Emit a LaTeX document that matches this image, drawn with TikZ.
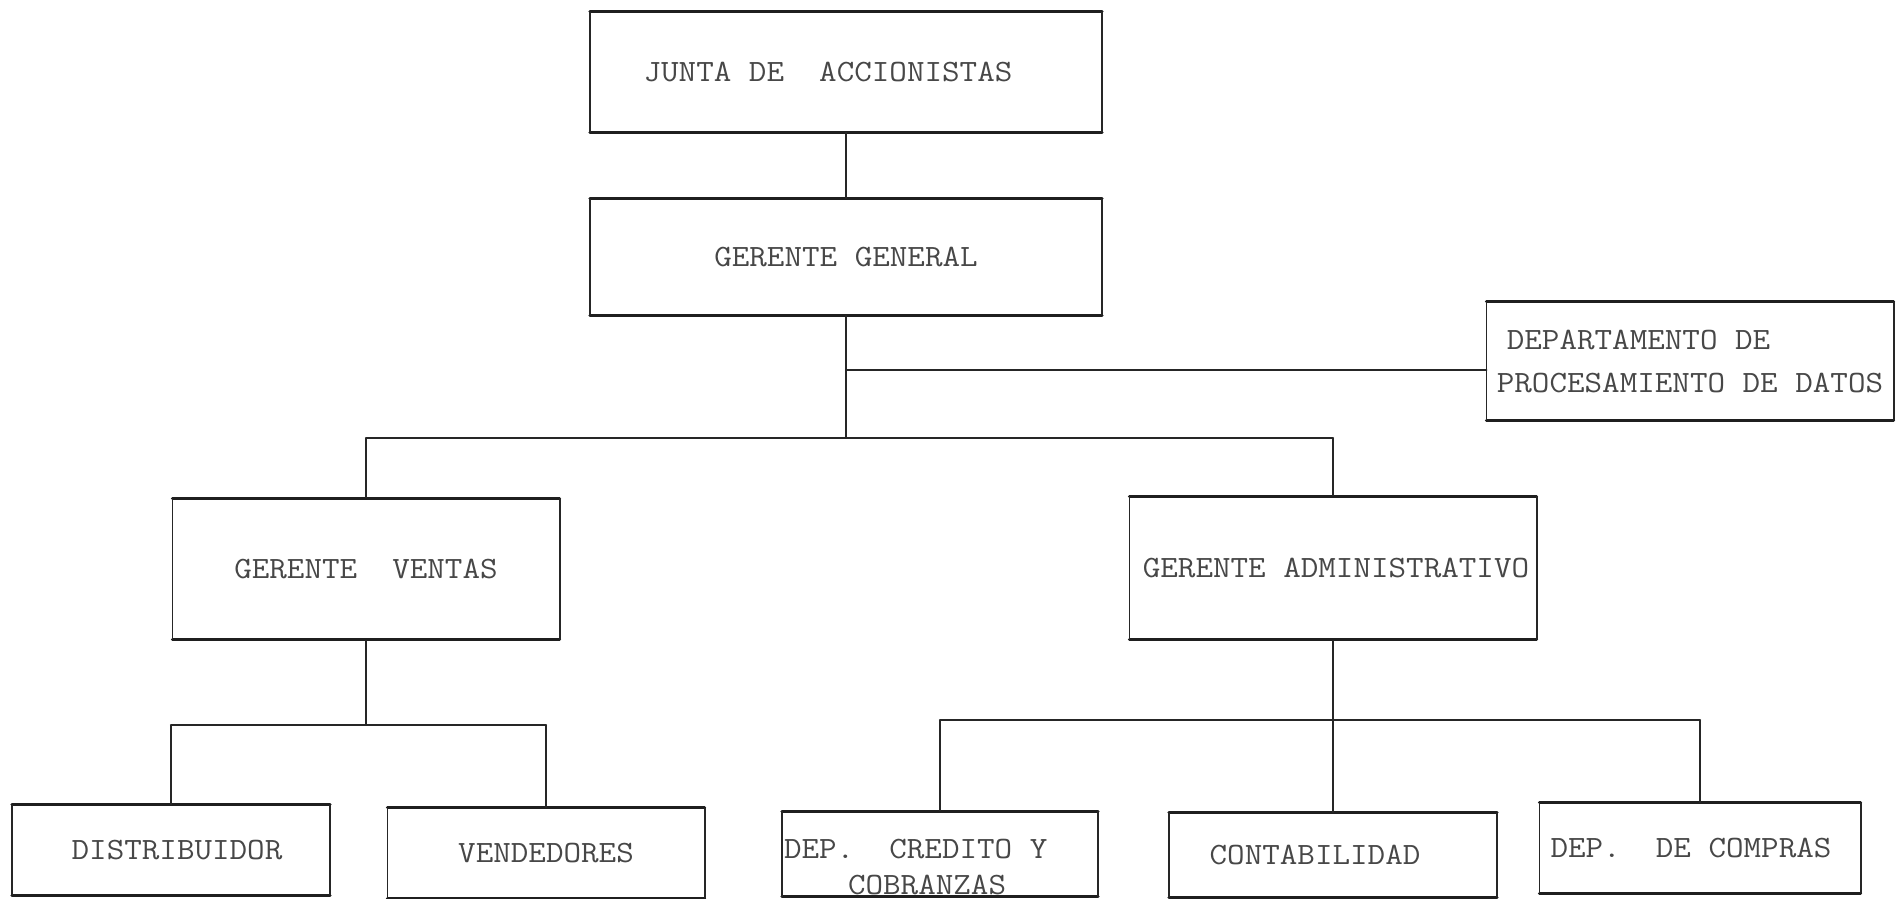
\documentclass[tikz,border=0pt]{standalone}
\usepackage{fontspec}
\setmonofont[FakeStretch=1.1]{Latin Modern Mono}
\newcommand{\orgfont}{\ttfamily\fontsize{31}{43}\selectfont}
% typed-card frame: heavy horizontal rules, lighter vertical rules
\newcommand{\cardframe}[1]{%
  \draw[hrule] (#1.north west) -- (#1.north east);
  \draw[hrule] (#1.south west) -- (#1.south east);
  \draw[vrule] (#1.north west) -- (#1.south west);
  \draw[vrule] (#1.north east) -- (#1.south east);}
\begin{document}
\begin{tikzpicture}[x=1pt,y=-1pt,
  box/.style={inner sep=0pt, font=\orgfont, text=black!72},
  lbl/.style={inner sep=0pt, font=\orgfont, text=black!72},
  hrule/.style={draw=black!88, line width=2.8pt, line cap=round},
  vrule/.style={draw=black!85, line width=1.6pt},
  hlink/.style={draw=black!85, line width=2.4pt, line cap=round},
  vlink/.style={draw=black!85, line width=1.5pt}]
\useasboundingbox (0,0) rectangle (1900,899);

% top levels
\node[box, minimum width=512pt, minimum height=120pt] (junta) at (846,72)
  {JUNTA DE\ \ ACCIONISTAS\hspace*{36pt}};
\node[box, minimum width=512pt, minimum height=116pt] (gg) at (846,257)
  {GERENTE GENERAL};
\node[box, minimum width=407pt, minimum height=118pt, align=left] (dept) at (1690,361)
  {\hspace*{10pt}DEPARTAMENTO DE\\PROCESAMIENTO DE DATOS};

% managers
\node[box, minimum width=387pt, minimum height=141pt] (gv) at (366,569)
  {GERENTE\ \ VENTAS};
\node[box, minimum width=407pt, minimum height=143pt] (ga) at (1333,568)
  {\hspace*{6pt}GERENTE ADMINISTRATIVO};

% departments
\node[box, minimum width=318pt, minimum height=90pt] (dist) at (171,850)
  {\hspace*{12pt}DISTRIBUIDOR};
\node[box, minimum width=317pt, minimum height=90pt] (vend) at (546,853) {VENDEDORES};
\node[box, minimum width=316pt, minimum height=85pt] (cred) at (940,854) {};
\node[lbl, anchor=north west, align=left, font=\ttfamily\fontsize{31}{36}\selectfont]
  (credT) at ([xshift=2pt, yshift=-28pt]cred.north west)
  {DEP.\ \ CREDITO Y\\\hspace*{64pt}COBRANZAS};
\node[box, minimum width=328pt, minimum height=84pt] (cont) at (1333,855)
  {CONTABILIDAD\hspace*{36pt}};
\node[box, minimum width=321pt, minimum height=90pt] (comp) at (1700,848)
  {DEP.\ \ DE COMPRAS\hspace*{18pt}};

% frames
\cardframe{junta}
\cardframe{gg}
\cardframe{dept}
\cardframe{gv}
\cardframe{ga}
\cardframe{dist}
\cardframe{vend}
\cardframe{cred}
\cardframe{cont}
\cardframe{comp}

% junction points
\coordinate (bus1) at (gg.south |- 0,438);
\coordinate (deptin) at (dept.west |- 0,370);
\coordinate (vbus) at (gv.south |- 0,725);
\coordinate (abus) at (ga.south |- 0,720);

% connectors
\draw[vlink] (junta.south) -- (gg.north);
\draw[vlink] (gg.south) -- (bus1);
\draw[hlink] (gg.south |- deptin) -- (deptin);
\draw[vlink] (gv.north) -- (gv.north |- bus1);
\draw[hlink] (gv.north |- bus1) -- (ga.north |- bus1);
\draw[vlink] (ga.north |- bus1) -- (ga.north);
\draw[vlink] (gv.south) -- (vbus);
\draw[vlink] (dist.north) -- (dist.north |- vbus);
\draw[hlink] (dist.north |- vbus) -- (vend.north |- vbus);
\draw[vlink] (vend.north |- vbus) -- (vend.north);
\draw[vlink] (ga.south) -- (abus);
\draw[vlink] (abus) -- (cont.north);
\draw[vlink] (cred.north) -- (cred.north |- abus);
\draw[hlink] (cred.north |- abus) -- (comp.north |- abus);
\draw[vlink] (comp.north |- abus) -- (comp.north);
\end{tikzpicture}
\end{document}
